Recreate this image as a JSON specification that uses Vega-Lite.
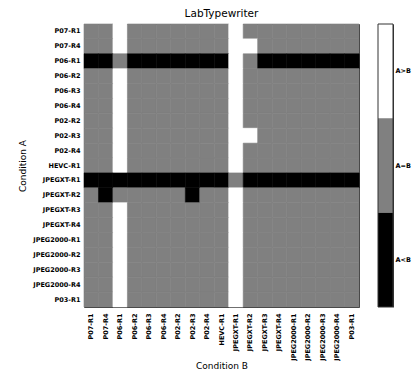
{
  "$schema": "https://vega.github.io/schema/vega-lite/v6.json",
  "padding": {"left": 18, "top": 9, "right": 2, "bottom": 0},
  "config": {
    "font": "DejaVu Sans",
    "view": {"stroke": null},
    "axis": {
      "zindex": 1,
      "grid": false,
      "domain": true,
      "domainColor": "#333333",
      "domainWidth": 1,
      "labelFont": "DejaVu Sans",
      "labelFontWeight": "bold",
      "labelFontSize": 6.5,
      "labelColor": "#000000",
      "tickColor": "#333333",
      "tickSize": -3,
      "labelPadding": 7,
      "titleFont": "DejaVu Sans",
      "titleFontWeight": "normal",
      "titleFontSize": 9,
      "titleColor": "#000000"
    }
  },
  "datasets": {
    "cells": [
      {"a":"P07-R1","b":"P07-R1","r":"A=B"},{"a":"P07-R1","b":"P07-R4","r":"A=B"},{"a":"P07-R1","b":"P06-R1","r":"A>B"},{"a":"P07-R1","b":"P06-R2","r":"A=B"},{"a":"P07-R1","b":"P06-R3","r":"A=B"},{"a":"P07-R1","b":"P06-R4","r":"A=B"},{"a":"P07-R1","b":"P02-R2","r":"A=B"},{"a":"P07-R1","b":"P02-R3","r":"A=B"},{"a":"P07-R1","b":"P02-R4","r":"A=B"},{"a":"P07-R1","b":"HEVC-R1","r":"A=B"},{"a":"P07-R1","b":"JPEGXT-R1","r":"A>B"},{"a":"P07-R1","b":"JPEGXT-R2","r":"A=B"},{"a":"P07-R1","b":"JPEGXT-R3","r":"A=B"},{"a":"P07-R1","b":"JPEGXT-R4","r":"A=B"},{"a":"P07-R1","b":"JPEG2000-R1","r":"A=B"},{"a":"P07-R1","b":"JPEG2000-R2","r":"A=B"},{"a":"P07-R1","b":"JPEG2000-R3","r":"A=B"},{"a":"P07-R1","b":"JPEG2000-R4","r":"A=B"},{"a":"P07-R1","b":"P03-R1","r":"A=B"},
      {"a":"P07-R4","b":"P07-R1","r":"A=B"},{"a":"P07-R4","b":"P07-R4","r":"A=B"},{"a":"P07-R4","b":"P06-R1","r":"A>B"},{"a":"P07-R4","b":"P06-R2","r":"A=B"},{"a":"P07-R4","b":"P06-R3","r":"A=B"},{"a":"P07-R4","b":"P06-R4","r":"A=B"},{"a":"P07-R4","b":"P02-R2","r":"A=B"},{"a":"P07-R4","b":"P02-R3","r":"A=B"},{"a":"P07-R4","b":"P02-R4","r":"A=B"},{"a":"P07-R4","b":"HEVC-R1","r":"A=B"},{"a":"P07-R4","b":"JPEGXT-R1","r":"A>B"},{"a":"P07-R4","b":"JPEGXT-R2","r":"A>B"},{"a":"P07-R4","b":"JPEGXT-R3","r":"A=B"},{"a":"P07-R4","b":"JPEGXT-R4","r":"A=B"},{"a":"P07-R4","b":"JPEG2000-R1","r":"A=B"},{"a":"P07-R4","b":"JPEG2000-R2","r":"A=B"},{"a":"P07-R4","b":"JPEG2000-R3","r":"A=B"},{"a":"P07-R4","b":"JPEG2000-R4","r":"A=B"},{"a":"P07-R4","b":"P03-R1","r":"A=B"},
      {"a":"P06-R1","b":"P07-R1","r":"A<B"},{"a":"P06-R1","b":"P07-R4","r":"A<B"},{"a":"P06-R1","b":"P06-R1","r":"A=B"},{"a":"P06-R1","b":"P06-R2","r":"A<B"},{"a":"P06-R1","b":"P06-R3","r":"A<B"},{"a":"P06-R1","b":"P06-R4","r":"A<B"},{"a":"P06-R1","b":"P02-R2","r":"A<B"},{"a":"P06-R1","b":"P02-R3","r":"A<B"},{"a":"P06-R1","b":"P02-R4","r":"A<B"},{"a":"P06-R1","b":"HEVC-R1","r":"A<B"},{"a":"P06-R1","b":"JPEGXT-R1","r":"A>B"},{"a":"P06-R1","b":"JPEGXT-R2","r":"A=B"},{"a":"P06-R1","b":"JPEGXT-R3","r":"A<B"},{"a":"P06-R1","b":"JPEGXT-R4","r":"A<B"},{"a":"P06-R1","b":"JPEG2000-R1","r":"A<B"},{"a":"P06-R1","b":"JPEG2000-R2","r":"A<B"},{"a":"P06-R1","b":"JPEG2000-R3","r":"A<B"},{"a":"P06-R1","b":"JPEG2000-R4","r":"A<B"},{"a":"P06-R1","b":"P03-R1","r":"A<B"},
      {"a":"P06-R2","b":"P07-R1","r":"A=B"},{"a":"P06-R2","b":"P07-R4","r":"A=B"},{"a":"P06-R2","b":"P06-R1","r":"A>B"},{"a":"P06-R2","b":"P06-R2","r":"A=B"},{"a":"P06-R2","b":"P06-R3","r":"A=B"},{"a":"P06-R2","b":"P06-R4","r":"A=B"},{"a":"P06-R2","b":"P02-R2","r":"A=B"},{"a":"P06-R2","b":"P02-R3","r":"A=B"},{"a":"P06-R2","b":"P02-R4","r":"A=B"},{"a":"P06-R2","b":"HEVC-R1","r":"A=B"},{"a":"P06-R2","b":"JPEGXT-R1","r":"A>B"},{"a":"P06-R2","b":"JPEGXT-R2","r":"A=B"},{"a":"P06-R2","b":"JPEGXT-R3","r":"A=B"},{"a":"P06-R2","b":"JPEGXT-R4","r":"A=B"},{"a":"P06-R2","b":"JPEG2000-R1","r":"A=B"},{"a":"P06-R2","b":"JPEG2000-R2","r":"A=B"},{"a":"P06-R2","b":"JPEG2000-R3","r":"A=B"},{"a":"P06-R2","b":"JPEG2000-R4","r":"A=B"},{"a":"P06-R2","b":"P03-R1","r":"A=B"},
      {"a":"P06-R3","b":"P07-R1","r":"A=B"},{"a":"P06-R3","b":"P07-R4","r":"A=B"},{"a":"P06-R3","b":"P06-R1","r":"A>B"},{"a":"P06-R3","b":"P06-R2","r":"A=B"},{"a":"P06-R3","b":"P06-R3","r":"A=B"},{"a":"P06-R3","b":"P06-R4","r":"A=B"},{"a":"P06-R3","b":"P02-R2","r":"A=B"},{"a":"P06-R3","b":"P02-R3","r":"A=B"},{"a":"P06-R3","b":"P02-R4","r":"A=B"},{"a":"P06-R3","b":"HEVC-R1","r":"A=B"},{"a":"P06-R3","b":"JPEGXT-R1","r":"A>B"},{"a":"P06-R3","b":"JPEGXT-R2","r":"A=B"},{"a":"P06-R3","b":"JPEGXT-R3","r":"A=B"},{"a":"P06-R3","b":"JPEGXT-R4","r":"A=B"},{"a":"P06-R3","b":"JPEG2000-R1","r":"A=B"},{"a":"P06-R3","b":"JPEG2000-R2","r":"A=B"},{"a":"P06-R3","b":"JPEG2000-R3","r":"A=B"},{"a":"P06-R3","b":"JPEG2000-R4","r":"A=B"},{"a":"P06-R3","b":"P03-R1","r":"A=B"},
      {"a":"P06-R4","b":"P07-R1","r":"A=B"},{"a":"P06-R4","b":"P07-R4","r":"A=B"},{"a":"P06-R4","b":"P06-R1","r":"A>B"},{"a":"P06-R4","b":"P06-R2","r":"A=B"},{"a":"P06-R4","b":"P06-R3","r":"A=B"},{"a":"P06-R4","b":"P06-R4","r":"A=B"},{"a":"P06-R4","b":"P02-R2","r":"A=B"},{"a":"P06-R4","b":"P02-R3","r":"A=B"},{"a":"P06-R4","b":"P02-R4","r":"A=B"},{"a":"P06-R4","b":"HEVC-R1","r":"A=B"},{"a":"P06-R4","b":"JPEGXT-R1","r":"A>B"},{"a":"P06-R4","b":"JPEGXT-R2","r":"A=B"},{"a":"P06-R4","b":"JPEGXT-R3","r":"A=B"},{"a":"P06-R4","b":"JPEGXT-R4","r":"A=B"},{"a":"P06-R4","b":"JPEG2000-R1","r":"A=B"},{"a":"P06-R4","b":"JPEG2000-R2","r":"A=B"},{"a":"P06-R4","b":"JPEG2000-R3","r":"A=B"},{"a":"P06-R4","b":"JPEG2000-R4","r":"A=B"},{"a":"P06-R4","b":"P03-R1","r":"A=B"},
      {"a":"P02-R2","b":"P07-R1","r":"A=B"},{"a":"P02-R2","b":"P07-R4","r":"A=B"},{"a":"P02-R2","b":"P06-R1","r":"A>B"},{"a":"P02-R2","b":"P06-R2","r":"A=B"},{"a":"P02-R2","b":"P06-R3","r":"A=B"},{"a":"P02-R2","b":"P06-R4","r":"A=B"},{"a":"P02-R2","b":"P02-R2","r":"A=B"},{"a":"P02-R2","b":"P02-R3","r":"A=B"},{"a":"P02-R2","b":"P02-R4","r":"A=B"},{"a":"P02-R2","b":"HEVC-R1","r":"A=B"},{"a":"P02-R2","b":"JPEGXT-R1","r":"A>B"},{"a":"P02-R2","b":"JPEGXT-R2","r":"A=B"},{"a":"P02-R2","b":"JPEGXT-R3","r":"A=B"},{"a":"P02-R2","b":"JPEGXT-R4","r":"A=B"},{"a":"P02-R2","b":"JPEG2000-R1","r":"A=B"},{"a":"P02-R2","b":"JPEG2000-R2","r":"A=B"},{"a":"P02-R2","b":"JPEG2000-R3","r":"A=B"},{"a":"P02-R2","b":"JPEG2000-R4","r":"A=B"},{"a":"P02-R2","b":"P03-R1","r":"A=B"},
      {"a":"P02-R3","b":"P07-R1","r":"A=B"},{"a":"P02-R3","b":"P07-R4","r":"A=B"},{"a":"P02-R3","b":"P06-R1","r":"A>B"},{"a":"P02-R3","b":"P06-R2","r":"A=B"},{"a":"P02-R3","b":"P06-R3","r":"A=B"},{"a":"P02-R3","b":"P06-R4","r":"A=B"},{"a":"P02-R3","b":"P02-R2","r":"A=B"},{"a":"P02-R3","b":"P02-R3","r":"A=B"},{"a":"P02-R3","b":"P02-R4","r":"A=B"},{"a":"P02-R3","b":"HEVC-R1","r":"A=B"},{"a":"P02-R3","b":"JPEGXT-R1","r":"A>B"},{"a":"P02-R3","b":"JPEGXT-R2","r":"A>B"},{"a":"P02-R3","b":"JPEGXT-R3","r":"A=B"},{"a":"P02-R3","b":"JPEGXT-R4","r":"A=B"},{"a":"P02-R3","b":"JPEG2000-R1","r":"A=B"},{"a":"P02-R3","b":"JPEG2000-R2","r":"A=B"},{"a":"P02-R3","b":"JPEG2000-R3","r":"A=B"},{"a":"P02-R3","b":"JPEG2000-R4","r":"A=B"},{"a":"P02-R3","b":"P03-R1","r":"A=B"},
      {"a":"P02-R4","b":"P07-R1","r":"A=B"},{"a":"P02-R4","b":"P07-R4","r":"A=B"},{"a":"P02-R4","b":"P06-R1","r":"A>B"},{"a":"P02-R4","b":"P06-R2","r":"A=B"},{"a":"P02-R4","b":"P06-R3","r":"A=B"},{"a":"P02-R4","b":"P06-R4","r":"A=B"},{"a":"P02-R4","b":"P02-R2","r":"A=B"},{"a":"P02-R4","b":"P02-R3","r":"A=B"},{"a":"P02-R4","b":"P02-R4","r":"A=B"},{"a":"P02-R4","b":"HEVC-R1","r":"A=B"},{"a":"P02-R4","b":"JPEGXT-R1","r":"A>B"},{"a":"P02-R4","b":"JPEGXT-R2","r":"A=B"},{"a":"P02-R4","b":"JPEGXT-R3","r":"A=B"},{"a":"P02-R4","b":"JPEGXT-R4","r":"A=B"},{"a":"P02-R4","b":"JPEG2000-R1","r":"A=B"},{"a":"P02-R4","b":"JPEG2000-R2","r":"A=B"},{"a":"P02-R4","b":"JPEG2000-R3","r":"A=B"},{"a":"P02-R4","b":"JPEG2000-R4","r":"A=B"},{"a":"P02-R4","b":"P03-R1","r":"A=B"},
      {"a":"HEVC-R1","b":"P07-R1","r":"A=B"},{"a":"HEVC-R1","b":"P07-R4","r":"A=B"},{"a":"HEVC-R1","b":"P06-R1","r":"A>B"},{"a":"HEVC-R1","b":"P06-R2","r":"A=B"},{"a":"HEVC-R1","b":"P06-R3","r":"A=B"},{"a":"HEVC-R1","b":"P06-R4","r":"A=B"},{"a":"HEVC-R1","b":"P02-R2","r":"A=B"},{"a":"HEVC-R1","b":"P02-R3","r":"A=B"},{"a":"HEVC-R1","b":"P02-R4","r":"A=B"},{"a":"HEVC-R1","b":"HEVC-R1","r":"A=B"},{"a":"HEVC-R1","b":"JPEGXT-R1","r":"A>B"},{"a":"HEVC-R1","b":"JPEGXT-R2","r":"A=B"},{"a":"HEVC-R1","b":"JPEGXT-R3","r":"A=B"},{"a":"HEVC-R1","b":"JPEGXT-R4","r":"A=B"},{"a":"HEVC-R1","b":"JPEG2000-R1","r":"A=B"},{"a":"HEVC-R1","b":"JPEG2000-R2","r":"A=B"},{"a":"HEVC-R1","b":"JPEG2000-R3","r":"A=B"},{"a":"HEVC-R1","b":"JPEG2000-R4","r":"A=B"},{"a":"HEVC-R1","b":"P03-R1","r":"A=B"},
      {"a":"JPEGXT-R1","b":"P07-R1","r":"A<B"},{"a":"JPEGXT-R1","b":"P07-R4","r":"A<B"},{"a":"JPEGXT-R1","b":"P06-R1","r":"A<B"},{"a":"JPEGXT-R1","b":"P06-R2","r":"A<B"},{"a":"JPEGXT-R1","b":"P06-R3","r":"A<B"},{"a":"JPEGXT-R1","b":"P06-R4","r":"A<B"},{"a":"JPEGXT-R1","b":"P02-R2","r":"A<B"},{"a":"JPEGXT-R1","b":"P02-R3","r":"A<B"},{"a":"JPEGXT-R1","b":"P02-R4","r":"A<B"},{"a":"JPEGXT-R1","b":"HEVC-R1","r":"A<B"},{"a":"JPEGXT-R1","b":"JPEGXT-R1","r":"A=B"},{"a":"JPEGXT-R1","b":"JPEGXT-R2","r":"A<B"},{"a":"JPEGXT-R1","b":"JPEGXT-R3","r":"A<B"},{"a":"JPEGXT-R1","b":"JPEGXT-R4","r":"A<B"},{"a":"JPEGXT-R1","b":"JPEG2000-R1","r":"A<B"},{"a":"JPEGXT-R1","b":"JPEG2000-R2","r":"A<B"},{"a":"JPEGXT-R1","b":"JPEG2000-R3","r":"A<B"},{"a":"JPEGXT-R1","b":"JPEG2000-R4","r":"A<B"},{"a":"JPEGXT-R1","b":"P03-R1","r":"A<B"},
      {"a":"JPEGXT-R2","b":"P07-R1","r":"A=B"},{"a":"JPEGXT-R2","b":"P07-R4","r":"A<B"},{"a":"JPEGXT-R2","b":"P06-R1","r":"A=B"},{"a":"JPEGXT-R2","b":"P06-R2","r":"A=B"},{"a":"JPEGXT-R2","b":"P06-R3","r":"A=B"},{"a":"JPEGXT-R2","b":"P06-R4","r":"A=B"},{"a":"JPEGXT-R2","b":"P02-R2","r":"A=B"},{"a":"JPEGXT-R2","b":"P02-R3","r":"A<B"},{"a":"JPEGXT-R2","b":"P02-R4","r":"A=B"},{"a":"JPEGXT-R2","b":"HEVC-R1","r":"A=B"},{"a":"JPEGXT-R2","b":"JPEGXT-R1","r":"A>B"},{"a":"JPEGXT-R2","b":"JPEGXT-R2","r":"A=B"},{"a":"JPEGXT-R2","b":"JPEGXT-R3","r":"A=B"},{"a":"JPEGXT-R2","b":"JPEGXT-R4","r":"A=B"},{"a":"JPEGXT-R2","b":"JPEG2000-R1","r":"A=B"},{"a":"JPEGXT-R2","b":"JPEG2000-R2","r":"A=B"},{"a":"JPEGXT-R2","b":"JPEG2000-R3","r":"A=B"},{"a":"JPEGXT-R2","b":"JPEG2000-R4","r":"A=B"},{"a":"JPEGXT-R2","b":"P03-R1","r":"A=B"},
      {"a":"JPEGXT-R3","b":"P07-R1","r":"A=B"},{"a":"JPEGXT-R3","b":"P07-R4","r":"A=B"},{"a":"JPEGXT-R3","b":"P06-R1","r":"A>B"},{"a":"JPEGXT-R3","b":"P06-R2","r":"A=B"},{"a":"JPEGXT-R3","b":"P06-R3","r":"A=B"},{"a":"JPEGXT-R3","b":"P06-R4","r":"A=B"},{"a":"JPEGXT-R3","b":"P02-R2","r":"A=B"},{"a":"JPEGXT-R3","b":"P02-R3","r":"A=B"},{"a":"JPEGXT-R3","b":"P02-R4","r":"A=B"},{"a":"JPEGXT-R3","b":"HEVC-R1","r":"A=B"},{"a":"JPEGXT-R3","b":"JPEGXT-R1","r":"A>B"},{"a":"JPEGXT-R3","b":"JPEGXT-R2","r":"A=B"},{"a":"JPEGXT-R3","b":"JPEGXT-R3","r":"A=B"},{"a":"JPEGXT-R3","b":"JPEGXT-R4","r":"A=B"},{"a":"JPEGXT-R3","b":"JPEG2000-R1","r":"A=B"},{"a":"JPEGXT-R3","b":"JPEG2000-R2","r":"A=B"},{"a":"JPEGXT-R3","b":"JPEG2000-R3","r":"A=B"},{"a":"JPEGXT-R3","b":"JPEG2000-R4","r":"A=B"},{"a":"JPEGXT-R3","b":"P03-R1","r":"A=B"},
      {"a":"JPEGXT-R4","b":"P07-R1","r":"A=B"},{"a":"JPEGXT-R4","b":"P07-R4","r":"A=B"},{"a":"JPEGXT-R4","b":"P06-R1","r":"A>B"},{"a":"JPEGXT-R4","b":"P06-R2","r":"A=B"},{"a":"JPEGXT-R4","b":"P06-R3","r":"A=B"},{"a":"JPEGXT-R4","b":"P06-R4","r":"A=B"},{"a":"JPEGXT-R4","b":"P02-R2","r":"A=B"},{"a":"JPEGXT-R4","b":"P02-R3","r":"A=B"},{"a":"JPEGXT-R4","b":"P02-R4","r":"A=B"},{"a":"JPEGXT-R4","b":"HEVC-R1","r":"A=B"},{"a":"JPEGXT-R4","b":"JPEGXT-R1","r":"A>B"},{"a":"JPEGXT-R4","b":"JPEGXT-R2","r":"A=B"},{"a":"JPEGXT-R4","b":"JPEGXT-R3","r":"A=B"},{"a":"JPEGXT-R4","b":"JPEGXT-R4","r":"A=B"},{"a":"JPEGXT-R4","b":"JPEG2000-R1","r":"A=B"},{"a":"JPEGXT-R4","b":"JPEG2000-R2","r":"A=B"},{"a":"JPEGXT-R4","b":"JPEG2000-R3","r":"A=B"},{"a":"JPEGXT-R4","b":"JPEG2000-R4","r":"A=B"},{"a":"JPEGXT-R4","b":"P03-R1","r":"A=B"},
      {"a":"JPEG2000-R1","b":"P07-R1","r":"A=B"},{"a":"JPEG2000-R1","b":"P07-R4","r":"A=B"},{"a":"JPEG2000-R1","b":"P06-R1","r":"A>B"},{"a":"JPEG2000-R1","b":"P06-R2","r":"A=B"},{"a":"JPEG2000-R1","b":"P06-R3","r":"A=B"},{"a":"JPEG2000-R1","b":"P06-R4","r":"A=B"},{"a":"JPEG2000-R1","b":"P02-R2","r":"A=B"},{"a":"JPEG2000-R1","b":"P02-R3","r":"A=B"},{"a":"JPEG2000-R1","b":"P02-R4","r":"A=B"},{"a":"JPEG2000-R1","b":"HEVC-R1","r":"A=B"},{"a":"JPEG2000-R1","b":"JPEGXT-R1","r":"A>B"},{"a":"JPEG2000-R1","b":"JPEGXT-R2","r":"A=B"},{"a":"JPEG2000-R1","b":"JPEGXT-R3","r":"A=B"},{"a":"JPEG2000-R1","b":"JPEGXT-R4","r":"A=B"},{"a":"JPEG2000-R1","b":"JPEG2000-R1","r":"A=B"},{"a":"JPEG2000-R1","b":"JPEG2000-R2","r":"A=B"},{"a":"JPEG2000-R1","b":"JPEG2000-R3","r":"A=B"},{"a":"JPEG2000-R1","b":"JPEG2000-R4","r":"A=B"},{"a":"JPEG2000-R1","b":"P03-R1","r":"A=B"},
      {"a":"JPEG2000-R2","b":"P07-R1","r":"A=B"},{"a":"JPEG2000-R2","b":"P07-R4","r":"A=B"},{"a":"JPEG2000-R2","b":"P06-R1","r":"A>B"},{"a":"JPEG2000-R2","b":"P06-R2","r":"A=B"},{"a":"JPEG2000-R2","b":"P06-R3","r":"A=B"},{"a":"JPEG2000-R2","b":"P06-R4","r":"A=B"},{"a":"JPEG2000-R2","b":"P02-R2","r":"A=B"},{"a":"JPEG2000-R2","b":"P02-R3","r":"A=B"},{"a":"JPEG2000-R2","b":"P02-R4","r":"A=B"},{"a":"JPEG2000-R2","b":"HEVC-R1","r":"A=B"},{"a":"JPEG2000-R2","b":"JPEGXT-R1","r":"A>B"},{"a":"JPEG2000-R2","b":"JPEGXT-R2","r":"A=B"},{"a":"JPEG2000-R2","b":"JPEGXT-R3","r":"A=B"},{"a":"JPEG2000-R2","b":"JPEGXT-R4","r":"A=B"},{"a":"JPEG2000-R2","b":"JPEG2000-R1","r":"A=B"},{"a":"JPEG2000-R2","b":"JPEG2000-R2","r":"A=B"},{"a":"JPEG2000-R2","b":"JPEG2000-R3","r":"A=B"},{"a":"JPEG2000-R2","b":"JPEG2000-R4","r":"A=B"},{"a":"JPEG2000-R2","b":"P03-R1","r":"A=B"},
      {"a":"JPEG2000-R3","b":"P07-R1","r":"A=B"},{"a":"JPEG2000-R3","b":"P07-R4","r":"A=B"},{"a":"JPEG2000-R3","b":"P06-R1","r":"A>B"},{"a":"JPEG2000-R3","b":"P06-R2","r":"A=B"},{"a":"JPEG2000-R3","b":"P06-R3","r":"A=B"},{"a":"JPEG2000-R3","b":"P06-R4","r":"A=B"},{"a":"JPEG2000-R3","b":"P02-R2","r":"A=B"},{"a":"JPEG2000-R3","b":"P02-R3","r":"A=B"},{"a":"JPEG2000-R3","b":"P02-R4","r":"A=B"},{"a":"JPEG2000-R3","b":"HEVC-R1","r":"A=B"},{"a":"JPEG2000-R3","b":"JPEGXT-R1","r":"A>B"},{"a":"JPEG2000-R3","b":"JPEGXT-R2","r":"A=B"},{"a":"JPEG2000-R3","b":"JPEGXT-R3","r":"A=B"},{"a":"JPEG2000-R3","b":"JPEGXT-R4","r":"A=B"},{"a":"JPEG2000-R3","b":"JPEG2000-R1","r":"A=B"},{"a":"JPEG2000-R3","b":"JPEG2000-R2","r":"A=B"},{"a":"JPEG2000-R3","b":"JPEG2000-R3","r":"A=B"},{"a":"JPEG2000-R3","b":"JPEG2000-R4","r":"A=B"},{"a":"JPEG2000-R3","b":"P03-R1","r":"A=B"},
      {"a":"JPEG2000-R4","b":"P07-R1","r":"A=B"},{"a":"JPEG2000-R4","b":"P07-R4","r":"A=B"},{"a":"JPEG2000-R4","b":"P06-R1","r":"A>B"},{"a":"JPEG2000-R4","b":"P06-R2","r":"A=B"},{"a":"JPEG2000-R4","b":"P06-R3","r":"A=B"},{"a":"JPEG2000-R4","b":"P06-R4","r":"A=B"},{"a":"JPEG2000-R4","b":"P02-R2","r":"A=B"},{"a":"JPEG2000-R4","b":"P02-R3","r":"A=B"},{"a":"JPEG2000-R4","b":"P02-R4","r":"A=B"},{"a":"JPEG2000-R4","b":"HEVC-R1","r":"A=B"},{"a":"JPEG2000-R4","b":"JPEGXT-R1","r":"A>B"},{"a":"JPEG2000-R4","b":"JPEGXT-R2","r":"A=B"},{"a":"JPEG2000-R4","b":"JPEGXT-R3","r":"A=B"},{"a":"JPEG2000-R4","b":"JPEGXT-R4","r":"A=B"},{"a":"JPEG2000-R4","b":"JPEG2000-R1","r":"A=B"},{"a":"JPEG2000-R4","b":"JPEG2000-R2","r":"A=B"},{"a":"JPEG2000-R4","b":"JPEG2000-R3","r":"A=B"},{"a":"JPEG2000-R4","b":"JPEG2000-R4","r":"A=B"},{"a":"JPEG2000-R4","b":"P03-R1","r":"A=B"},
      {"a":"P03-R1","b":"P07-R1","r":"A=B"},{"a":"P03-R1","b":"P07-R4","r":"A=B"},{"a":"P03-R1","b":"P06-R1","r":"A>B"},{"a":"P03-R1","b":"P06-R2","r":"A=B"},{"a":"P03-R1","b":"P06-R3","r":"A=B"},{"a":"P03-R1","b":"P06-R4","r":"A=B"},{"a":"P03-R1","b":"P02-R2","r":"A=B"},{"a":"P03-R1","b":"P02-R3","r":"A=B"},{"a":"P03-R1","b":"P02-R4","r":"A=B"},{"a":"P03-R1","b":"HEVC-R1","r":"A=B"},{"a":"P03-R1","b":"JPEGXT-R1","r":"A>B"},{"a":"P03-R1","b":"JPEGXT-R2","r":"A=B"},{"a":"P03-R1","b":"JPEGXT-R3","r":"A=B"},{"a":"P03-R1","b":"JPEGXT-R4","r":"A=B"},{"a":"P03-R1","b":"JPEG2000-R1","r":"A=B"},{"a":"P03-R1","b":"JPEG2000-R2","r":"A=B"},{"a":"P03-R1","b":"JPEG2000-R3","r":"A=B"},{"a":"P03-R1","b":"JPEG2000-R4","r":"A=B"},{"a":"P03-R1","b":"P03-R1","r":"A=B"}
    ],
    "levels": [
      {"r": "A>B"},
      {"r": "A=B"},
      {"r": "A<B"}
    ]
  },
  "spacing": 17,
  "hconcat": [
    {
      "title": {"text": "LabTypewriter", "fontSize": 10.5, "fontWeight": "normal", "color": "#000000", "offset": 4, "font": "DejaVu Sans"},
      "width": 275,
      "height": 283,
      "data": {"name": "cells"},
      "layer": [
        {
          "mark": {"type": "rect", "strokeWidth": 0.6},
          "encoding": {
            "x": {
              "field": "b", "type": "nominal", "title": "Condition B",
              "sort": ["P07-R1","P07-R4","P06-R1","P06-R2","P06-R3","P06-R4","P02-R2","P02-R3","P02-R4","HEVC-R1","JPEGXT-R1","JPEGXT-R2","JPEGXT-R3","JPEGXT-R4","JPEG2000-R1","JPEG2000-R2","JPEG2000-R3","JPEG2000-R4","P03-R1"],
              "scale": {"paddingInner": 0, "paddingOuter": 0},
              "axis": {"labelAngle": 270, "labelPadding": 9, "titlePadding": 1}
            },
            "y": {
              "field": "a", "type": "nominal", "title": "Condition A",
              "sort": ["P07-R1","P07-R4","P06-R1","P06-R2","P06-R3","P06-R4","P02-R2","P02-R3","P02-R4","HEVC-R1","JPEGXT-R1","JPEGXT-R2","JPEGXT-R3","JPEGXT-R4","JPEG2000-R1","JPEG2000-R2","JPEG2000-R3","JPEG2000-R4","P03-R1"],
              "scale": {"paddingInner": 0, "paddingOuter": 0},
              "axis": {"titlePadding": 5}
            },
            "color": {
              "field": "r", "type": "nominal",
              "scale": {"domain": ["A>B", "A=B", "A<B"], "range": ["#ffffff", "#808080", "#000000"]},
              "legend": null
            },
            "stroke": {
              "field": "r", "type": "nominal",
              "scale": {"domain": ["A>B", "A=B", "A<B"], "range": ["#ffffff", "#808080", "#000000"]},
              "legend": null
            }
          }
        },
        {
          "mark": {"type": "rect", "opacity": 0},
          "encoding": {
            "x": {
              "field": "b", "type": "nominal",
              "sort": ["P07-R1","P07-R4","P06-R1","P06-R2","P06-R3","P06-R4","P02-R2","P02-R3","P02-R4","HEVC-R1","JPEGXT-R1","JPEGXT-R2","JPEGXT-R3","JPEGXT-R4","JPEG2000-R1","JPEG2000-R2","JPEG2000-R3","JPEG2000-R4","P03-R1"],
              "axis": {"orient": "top", "labels": false, "title": null}
            },
            "y": {
              "field": "a", "type": "nominal",
              "sort": ["P07-R1","P07-R4","P06-R1","P06-R2","P06-R3","P06-R4","P02-R2","P02-R3","P02-R4","HEVC-R1","JPEGXT-R1","JPEGXT-R2","JPEGXT-R3","JPEGXT-R4","JPEG2000-R1","JPEG2000-R2","JPEG2000-R3","JPEG2000-R4","P03-R1"],
              "axis": {"orient": "right", "labels": false, "title": null}
            }
          }
        }
      ],
      "resolve": {"axis": {"x": "independent", "y": "independent"}}
    },
    {
      "width": 15,
      "height": 283,
      "layer": [
        {
          "data": {"name": "levels"},
          "mark": {"type": "rect"},
          "encoding": {
            "y": {
              "field": "r", "type": "nominal", "title": null,
              "sort": ["A>B", "A=B", "A<B"],
              "scale": {"paddingInner": 0, "paddingOuter": 0},
              "axis": {"orient": "right", "labelPadding": 6, "tickSize": -4}
            },
            "color": {
              "field": "r", "type": "nominal",
              "scale": {"domain": ["A>B", "A=B", "A<B"], "range": ["#ffffff", "#808080", "#000000"]},
              "legend": null
            }
          }
        },
        {
          "data": {"values": [{}]},
          "mark": {"type": "rect", "fill": null, "stroke": "#333333", "strokeWidth": 1},
          "encoding": {}
        }
      ]
    }
  ]
}
